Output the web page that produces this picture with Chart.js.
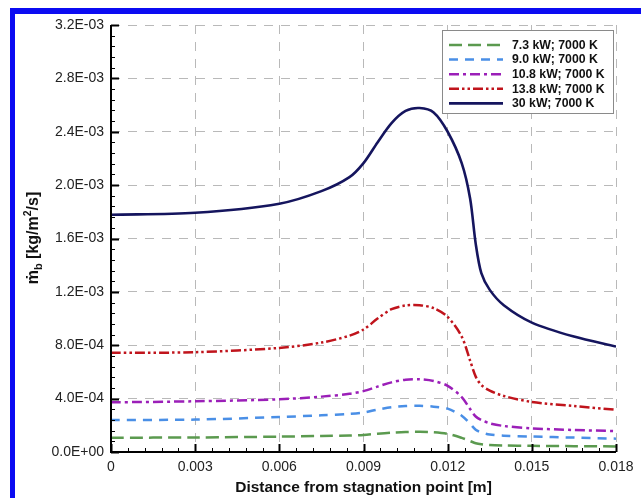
<!DOCTYPE html>
<html><head><meta charset="utf-8">
<script src="https://cdn.jsdelivr.net/npm/chart.js@4.4.1/dist/chart.umd.min.js"></script>
<style>html,body{margin:0;padding:0;background:#fff;}canvas{display:block;}</style>
</head><body>
<canvas id="c" width="641" height="498"></canvas>
<script>
// ---- data ----
const distance = [0, 0.003, 0.006, 0.0075, 0.0085, 0.009, 0.0095, 0.010, 0.0105, 0.011, 0.0115, 0.012, 0.0125, 0.0128, 0.013, 0.0132, 0.0135, 0.014, 0.015, 0.0165, 0.018];
const seriesLabels = ['7.3 kW; 7000 K', '9.0 kW; 7000 K', '10.8 kW; 7000 K', '13.8 kW; 7000 K', '30 kW; 7000 K'];
const mdot_7_3 = [1.07e-4, 1.09e-4, 1.15e-4, 1.20e-4, 1.24e-4, 1.28e-4, 1.37e-4, 1.45e-4, 1.50e-4, 1.51e-4, 1.48e-4, 1.36e-4, 1.06e-4, 0.82e-4, 0.66e-4, 0.58e-4, 0.52e-4, 0.49e-4, 0.46e-4, 0.44e-4, 0.42e-4];
const mdot_9_0 = [2.40e-4, 2.43e-4, 2.62e-4, 2.75e-4, 2.86e-4, 2.96e-4, 3.18e-4, 3.36e-4, 3.45e-4, 3.46e-4, 3.40e-4, 3.25e-4, 2.72e-4, 2.12e-4, 1.67e-4, 1.46e-4, 1.31e-4, 1.22e-4, 1.16e-4, 1.08e-4, 1.00e-4];
const mdot_10_8 = [3.72e-4, 3.80e-4, 3.95e-4, 4.15e-4, 4.36e-4, 4.56e-4, 4.90e-4, 5.22e-4, 5.42e-4, 5.45e-4, 5.32e-4, 4.96e-4, 4.12e-4, 3.22e-4, 2.66e-4, 2.40e-4, 2.15e-4, 1.95e-4, 1.77e-4, 1.65e-4, 1.57e-4];
const mdot_13_8 = [7.43e-4, 7.48e-4, 7.80e-4, 8.20e-4, 8.72e-4, 9.18e-4, 10.00e-4, 10.70e-4, 10.98e-4, 11.00e-4, 10.78e-4, 10.12e-4, 8.65e-4, 6.85e-4, 5.65e-4, 5.02e-4, 4.60e-4, 4.20e-4, 3.75e-4, 3.45e-4, 3.16e-4];
const mdot_30 = [1.778e-3, 1.793e-3, 1.861e-3, 1.955e-3, 2.060e-3, 2.165e-3, 2.320e-3, 2.465e-3, 2.556e-3, 2.578e-3, 2.545e-3, 2.400e-3, 2.165e-3, 1.900e-3, 1.560e-3, 1.340e-3, 1.215e-3, 1.100e-3, 0.970e-3, 0.865e-3, 0.790e-3];
const xTickLabels = ['0', '0.003', '0.006', '0.009', '0.012', '0.015', '0.018'];
const yTickLabels = ['0.0E+00', '4.0E-04', '8.0E-04', '1.2E-03', '1.6E-03', '2.0E-03', '2.4E-03', '2.8E-03', '3.2E-03'];

const styles = [
  {color: '#5b9a4f', dash: [13, 6], width: 2.5},
  {color: '#4a8fe6', dash: [9, 7], width: 2.5},
  {color: '#9b1fb8', dash: [10, 4, 3, 4], width: 2.5},
  {color: '#c0141c', dash: [10, 3, 2.5, 3, 2.5, 3], width: 2.5},
  {color: '#15155e', dash: [], width: 2.6}
];
const allSeries = [mdot_7_3, mdot_9_0, mdot_10_8, mdot_13_8, mdot_30];

const datasets = allSeries.map((vals, i) => ({
  label: seriesLabels[i],
  data: vals.map((v, j) => ({x: distance[j], y: v})),
  borderColor: styles[i].color,
  borderDash: styles[i].dash,
  borderWidth: styles[i].width,
  pointRadius: 0,
  fill: false,
  tension: 0.3
}));

const FONT = '"Liberation Sans", Arial, Helvetica, sans-serif';

const framePlugin = {
  id: 'frame',
  beforeDraw(chart) {
    const ctx = chart.ctx;
    ctx.save();
    ctx.fillStyle = '#ffffff';
    ctx.fillRect(0, 0, chart.width, chart.height);
    ctx.fillStyle = '#0b0bf2';
    ctx.fillRect(10, 8, 5, chart.height - 8);
    ctx.fillRect(10, 8, chart.width - 10, 6);
    ctx.restore();
  },
  afterDatasetsDraw(chart) {
    const ctx = chart.ctx;
    const xs = chart.scales.x, ys = chart.scales.y;
    const a = chart.chartArea;
    ctx.save();
    ctx.strokeStyle = '#000';
    ctx.lineWidth = 2;
    ctx.beginPath();
    ctx.moveTo(a.left, a.top);
    ctx.lineTo(a.left, a.bottom);
    ctx.lineTo(a.right, a.bottom);
    ctx.stroke();
    for (let i = 0; i <= 40; i++) {
      const v = i * 0.00008;
      const py = Math.round(ys.getPixelForValue(v)) + 0.5;
      const major = i % 5 === 0;
      ctx.lineWidth = major ? 2 : 1;
      ctx.beginPath();
      ctx.moveTo(a.left, py);
      ctx.lineTo(a.left + (major ? 8 : 4), py);
      ctx.stroke();
    }
    for (let i = 0; i <= 30; i++) {
      const v = i * 0.0006;
      const px = Math.round(xs.getPixelForValue(v)) + 0.5;
      const major = i % 5 === 0;
      ctx.lineWidth = major ? 2 : 1;
      ctx.beginPath();
      ctx.moveTo(px, a.bottom);
      ctx.lineTo(px, a.bottom - (major ? 8 : 4));
      ctx.stroke();
    }
    ctx.restore();
  },
  afterDraw(chart) {
    const ctx = chart.ctx;
    ctx.save();
    const lx = 442.5, ly = 30.5, lw = 171, lh = 83;
    ctx.fillStyle = '#fff';
    ctx.fillRect(lx, ly, lw, lh);
    ctx.strokeStyle = '#8a8a8a';
    ctx.lineWidth = 1;
    ctx.strokeRect(lx, ly, lw, lh);
    chart.data.datasets.forEach((ds, i) => {
      const yy = 45 + i * 14.6;
      ctx.strokeStyle = ds.borderColor;
      ctx.lineWidth = ds.borderWidth;
      ctx.setLineDash(ds.borderDash);
      ctx.beginPath();
      ctx.moveTo(449, yy);
      ctx.lineTo(503, yy);
      ctx.stroke();
      ctx.setLineDash([]);
      ctx.fillStyle = '#111';
      ctx.font = 'bold 12.3px ' + FONT;
      ctx.textBaseline = 'middle';
      ctx.textAlign = 'left';
      ctx.fillText(ds.label, 512, yy + 0.5);
    });
    const parts = [
      {t: 'ṁ', f: 'bold 16px ' + FONT, dy: 0},
      {t: 'b', f: 'bold 11px ' + FONT, dy: 4},
      {t: ' [kg/m', f: 'bold 16px ' + FONT, dy: 0},
      {t: '2', f: 'bold 10.5px ' + FONT, dy: -7},
      {t: '/s]', f: 'bold 16px ' + FONT, dy: 0}
    ];
    let total = 0;
    parts.forEach(p => { ctx.font = p.f; p.w = ctx.measureText(p.t).width; total += p.w; });
    ctx.translate(38, 238);
    ctx.rotate(-Math.PI / 2);
    ctx.fillStyle = '#111';
    ctx.textBaseline = 'alphabetic';
    ctx.textAlign = 'left';
    let cx = -total / 2;
    parts.forEach(p => { ctx.font = p.f; ctx.fillText(p.t, cx, p.dy); cx += p.w; });
    ctx.restore();
  }
};

new Chart(document.getElementById('c'), {
  type: 'line',
  data: {datasets},
  options: {
    responsive: false,
    animation: false,
    devicePixelRatio: 1,
    layout: {padding: {left: 0, top: 25, right: 25, bottom: 0}},
    plugins: {legend: {display: false}, tooltip: {enabled: false}},
    scales: {
      x: {
        type: 'linear', min: 0, max: 0.018,
        afterFit: s => { s.height = 46; },
        ticks: {stepSize: 0.003, padding: 7, color: '#222', font: {family: FONT, size: 14},
          callback: (v, i) => xTickLabels[i], maxRotation: 0, autoSkip: false},
        grid: {color: '#b9b9b9', lineWidth: 1, drawTicks: false},
        border: {display: false, dash: [9, 8]},
        title: {display: true, text: 'Distance from stagnation point [m]', color: '#111',
          font: {family: FONT, size: 15.5, weight: 'bold'}, padding: {top: 0, bottom: 1}}
      },
      y: {
        type: 'linear', min: 0, max: 0.0032,
        afterFit: s => { s.width = 111; },
        ticks: {stepSize: 0.0004, padding: 7, color: '#222', font: {family: FONT, size: 14},
          callback: (v, i) => yTickLabels[i], autoSkip: false},
        grid: {color: '#b9b9b9', lineWidth: 1, drawTicks: false},
        border: {display: false, dash: [9, 8]}
      }
    }
  },
  plugins: [framePlugin]
});
</script>
</body></html>
